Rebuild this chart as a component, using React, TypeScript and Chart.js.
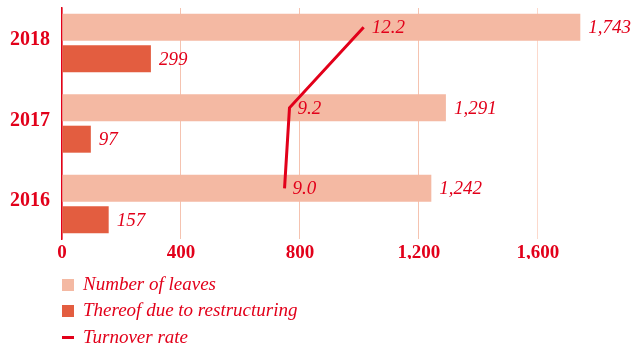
import React, { useEffect, useRef } from "react";
import { Chart, registerables } from "chart.js";

Chart.register(...registerables);

const categories = ["2018", "2017", "2016"];
const leaves = [1743, 1291, 1242];
const restructuring = [299, 97, 157];
const turnover = [12.2, 9.2, 9.0];
const xTickValues = [0, 400, 800, 1200, 1600];
const legendLabels = ["Number of leaves", "Thereof due to restructuring", "Turnover rate"];

const RED = "#e2001a";
const LIGHT = "#f4b9a3";
const DARK = "#e35d40";
const FONT = "'Liberation Serif', 'Times New Roman', serif";
const CAT_PCT = 0.78;
const BAR_PCT = 0.86;

export default function App() {
  const ref = useRef<HTMLCanvasElement | null>(null);

  useEffect(() => {
    document.body.style.margin = "0";
    const canvas = ref.current;
    if (!canvas) return;

    const labelPlugin = {
      id: "valueLabels",
      afterDatasetsDraw(chart: any) {
        const ctx = chart.ctx;
        ctx.save();
        ctx.fillStyle = RED;
        ctx.font = `italic 19px ${FONT}`;
        ctx.textBaseline = "middle";
        ctx.textAlign = "left";
        chart.data.datasets.forEach((ds: any, di: number) => {
          const meta = chart.getDatasetMeta(di);
          meta.data.forEach((el: any, i: number) => {
            const text =
              ds.type === "line"
                ? turnover[i].toFixed(1)
                : (di === 0 ? leaves[i] : restructuring[i]).toLocaleString("en-US");
            ctx.fillText(text, el.x + 8, el.y + 1);
          });
        });
        ctx.restore();
      },
    };

    const legendPlugin = {
      id: "columnLegend",
      afterDraw(chart: any) {
        const ctx = chart.ctx;
        const x0 = 62;
        const rows = [285, 311, 337.5];
        ctx.save();
        ctx.font = `italic 19px ${FONT}`;
        ctx.textBaseline = "middle";
        ctx.textAlign = "left";
        chart.data.datasets.forEach((ds: any, i: number) => {
          const y = rows[i];
          if (ds.type === "line") {
            ctx.fillStyle = ds.borderColor;
            ctx.fillRect(x0, y - 1.5, 12, 3);
          } else {
            ctx.fillStyle = ds.backgroundColor;
            ctx.fillRect(x0, y - 6, 12, 12);
          }
          ctx.fillStyle = RED;
          ctx.fillText(legendLabels[i], x0 + 21, y);
        });
        ctx.restore();
      },
    };

    const linePos = categories.map((_, i) => i - CAT_PCT / 4);

    const chart = new Chart(canvas, {
      type: "bar",
      data: {
        datasets: [
          {
            label: legendLabels[0],
            data: leaves.map((v, i) => ({ x: v, y: i })),
            backgroundColor: LIGHT,
            xAxisID: "x",
            yAxisID: "y",
            categoryPercentage: CAT_PCT,
            barPercentage: BAR_PCT,
            order: 2,
          },
          {
            label: legendLabels[1],
            data: restructuring.map((v, i) => ({ x: v, y: i })),
            backgroundColor: DARK,
            xAxisID: "x",
            yAxisID: "y",
            categoryPercentage: CAT_PCT,
            barPercentage: BAR_PCT,
            order: 2,
          },
          {
            type: "line",
            label: legendLabels[2],
            data: turnover.map((v, i) => ({ x: v, y: linePos[i] })),
            borderColor: RED,
            backgroundColor: RED,
            borderWidth: 3,
            pointRadius: 0,
            tension: 0,
            indexAxis: "y",
            xAxisID: "x2",
            yAxisID: "y",
            order: 1,
          } as any,
        ],
      },
      options: {
        indexAxis: "y",
        animation: false,
        responsive: false,
        maintainAspectRatio: false,
        layout: { padding: { top: 8, right: 5, bottom: 88, left: 0 } },
        plugins: {
          legend: { display: false },
          tooltip: { enabled: false },
        },
        scales: {
          x: {
            type: "linear",
            position: "bottom",
            min: 0,
            max: 1900,
            offset: false,
            afterBuildTicks: (scale: any) => {
              scale.ticks = xTickValues.map((v) => ({ value: v }));
            },
            afterFit: (scale: any) => {
              scale.height = 20;
              scale.paddingLeft = 0;
              scale.paddingRight = 0;
            },
            grid: {
              drawTicks: false,
              offset: false,
              color: (c: any) => (c.tick && c.tick.value === 1600 ? "#fcd9cc" : "#f5c3b0"),
              lineWidth: 1,
            },
            border: { display: false },
            ticks: {
              padding: 3,
              color: RED,
              font: { family: FONT, size: 19, weight: "bold" },
              callback: (v: any) => Number(v).toLocaleString("en-US"),
            },
          },
          x2: {
            type: "linear",
            axis: "x",
            display: false,
            offset: false,
            min: 0,
            max: 22.85,
          },
          y: {
            type: "linear",
            position: "left",
            min: -0.435,
            max: 2.435,
            reverse: true,
            offset: false,
            afterBuildTicks: (scale: any) => {
              scale.ticks = categories.map((_, i) => ({ value: i }));
            },
            afterFit: (scale: any) => {
              scale.width = 62;
              scale.paddingTop = 0;
              scale.paddingBottom = 0;
            },
            grid: { display: false, drawTicks: false, offset: false },
            border: { display: true, color: RED, width: 1.5 },
            ticks: {
              padding: 12,
              labelOffset: -3,
              color: RED,
              font: { family: FONT, size: 20, weight: "bold" },
              callback: (v: any) => categories[Math.round(Number(v))] ?? "",
            },
          },
        },
      } as any,
      plugins: [labelPlugin, legendPlugin],
    });

    return () => chart.destroy();
  }, []);

  return (
    <div style={{ width: 632, height: 347 }}>
      <canvas ref={ref} width={632} height={347} />
    </div>
  );
}
